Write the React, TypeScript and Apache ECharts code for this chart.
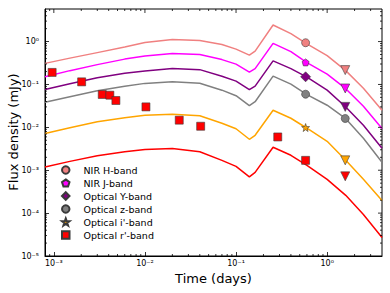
import React, { useEffect, useRef } from 'react';
import * as echarts from 'echarts';

const FONT = 'DejaVu Sans';

// model time grid (days)
const modelTimes = [0.0008, 0.0015, 0.003, 0.006, 0.01, 0.02, 0.04, 0.07, 0.1, 0.14, 0.162, 0.255, 0.4, 0.6, 1.0, 1.6, 2.5, 4.0];

// model curves (mJy)
const modelH = [0.31, 0.411, 0.553, 0.744, 0.948, 1.113, 1.055, 0.851, 0.668, 0.484, 0.6, 2.43, 1.538, 0.888, 0.471, 0.21, 0.082, 0.0251];
const modelJ = [0.151, 0.21, 0.29, 0.39, 0.463, 0.53, 0.497, 0.38, 0.298, 0.194, 0.234, 0.908, 0.584, 0.323, 0.174, 0.0798, 0.0311, 0.00938];
const modelY = [0.0764, 0.1044, 0.144, 0.1837, 0.2067, 0.2364, 0.2218, 0.156, 0.1194, 0.0756, 0.0912, 0.356, 0.234, 0.148, 0.0736, 0.0298, 0.0112, 0.00325];
const modelZ = [0.0386, 0.0519, 0.0716, 0.0912, 0.106, 0.115, 0.107, 0.0736, 0.0547, 0.032, 0.0396, 0.156, 0.1016, 0.0578, 0.0328, 0.0159, 0.00556, 0.00153];
const modelI = [0.00716, 0.0098, 0.0135, 0.01676, 0.0192, 0.0202, 0.0187, 0.01247, 0.00927, 0.00527, 0.00653, 0.0251, 0.0163, 0.00953, 0.00473, 0.0017, 0.000613, 0.000198];
const modelR = [0.00119, 0.00161, 0.00217, 0.00269, 0.00303, 0.0032, 0.00269, 0.0017, 0.00123, 0.000701, 0.000893, 0.00343, 0.00223, 0.0013, 0.000613, 0.00026, 0.0000933, 0.000027];

// observations (detections)
const obsHTimes = [0.58];
const obsHFlux = [0.94];
const obsJTimes = [0.58];
const obsJFlux = [0.327];
const obsYTimes = [0.58];
const obsYFlux = [0.151];
const obsZTimes = [0.58, 1.58];
const obsZFlux = [0.0593, 0.0161];
const obsITimes = [0.58];
const obsIFlux = [0.00989];
const obsRTimes = [0.000958, 0.00202, 0.0034, 0.00412, 0.0048, 0.01026, 0.0238, 0.0409, 0.287, 0.58];
const obsRFlux = [0.191, 0.115, 0.0584, 0.0562, 0.0423, 0.03, 0.0147, 0.0106, 0.00597, 0.0017];

// upper limits
const limTimes = [1.58];
const limH = [0.216];
const limJ = [0.0806];
const limY = [0.03];
const limI = [0.0017];
const limR = [0.00072];

const bandNames = ['NIR H-band', 'NIR J-band', 'Optical Y-band', 'Optical z-band', "Optical i'-band", "Optical r'-band"];
const bandColors = ['#F08080', '#FF00FF', '#800080', '#808080', '#FFA500', '#FF0000'];

const xTitle = 'Time (days)';
const yTitle = 'Flux density (mJy)';

const xMin = 0.0008;
const xMax = 4.0;
const yMin = 1e-5;
const yMax = 5.75;

const STAR = 'path://M0,-10 L2.35,-3.24 L9.51,-3.09 L3.8,1.24 L5.88,8.09 L0,4 L-5.88,8.09 L-3.8,1.24 L-9.51,-3.09 L-2.35,-3.24 Z';
const PENTA = 'path://M0,-10 L9.51,-3.09 L5.88,8.09 L-5.88,8.09 L-9.51,-3.09 Z';

const SUP: Record<string, string> = { '-': '\u207B', '0': '\u2070', '1': '\u00B9', '2': '\u00B2', '3': '\u00B3', '4': '\u2074', '5': '\u2075', '6': '\u2076' };
const powLabel = (v: number) => {
  const e = Math.round(Math.log10(v));
  return '10' + String(e).split('').map((c) => SUP[c] || c).join('');
};

const zip = (t: number[], f: number[]) => t.map((x, i) => [x, f[i]]);

function minorTicks(lo: number, hi: number) {
  const out: number[] = [];
  for (let e = -6; e <= 1; e++) {
    for (let k = 2; k <= 9; k++) {
      const v = k * Math.pow(10, e);
      if (v > lo && v < hi) out.push(v);
    }
  }
  return out;
}
function majorTicks(lo: number, hi: number) {
  const out: number[] = [];
  for (let e = -6; e <= 1; e++) {
    const v = Math.pow(10, e);
    if (v > lo && v < hi) out.push(v);
  }
  return out;
}

export default function App() {
  const ref = useRef<HTMLDivElement>(null);
  useEffect(() => {
    const chart = echarts.init(ref.current!, null, { renderer: 'svg' });
    const tickStyle = { stroke: '#000', lineWidth: 0.8 };
    const models = [modelH, modelJ, modelY, modelZ, modelI, modelR];
    const lineSeries = models.map((m, i) => ({
      name: 'model-' + i,
      type: 'line',
      data: zip(modelTimes, m),
      showSymbol: false,
      symbol: 'none',
      lineStyle: { color: bandColors[i], width: 1.5 },
      itemStyle: { color: bandColors[i] },
      z: 2,
      silent: true,
    }));
    const obs = [
      { t: obsHTimes, f: obsHFlux, symbol: 'circle', size: 8 },
      { t: obsJTimes, f: obsJFlux, symbol: PENTA, size: 7 },
      { t: obsYTimes, f: obsYFlux, symbol: 'diamond', size: 10 },
      { t: obsZTimes, f: obsZFlux, symbol: 'circle', size: 8 },
      { t: obsITimes, f: obsIFlux, symbol: STAR, size: 8 },
      { t: obsRTimes, f: obsRFlux, symbol: 'rect', size: 8 },
    ];
    const scatterSeries = obs.map((o, i) => ({
      name: bandNames[i],
      type: 'scatter',
      data: zip(o.t, o.f),
      symbol: o.symbol,
      symbolSize: o.size,
      itemStyle: { color: bandColors[i], borderColor: '#3a3a3a', borderWidth: 0.6, opacity: 1 },
      z: 5,
    }));
    const lims = [limH, limJ, limY, null, limI, limR];
    const limSeries = lims
      .map((l, i) =>
        l
          ? {
              name: 'limit-' + i,
              type: 'scatter',
              data: zip(limTimes, l),
              symbol: 'triangle',
              symbolRotate: 180,
              symbolSize: 9,
              itemStyle: { color: bandColors[i], borderColor: '#3a3a3a', borderWidth: 0.6, opacity: 1 },
              z: 5,
            }
          : null
      )
      .filter(Boolean);

    const xMinor = minorTicks(xMin, xMax);
    const yMinor = minorTicks(yMin, yMax);
    const xMajor = majorTicks(xMin, xMax);
    const yMajor = majorTicks(yMin, yMax);

    const xTickSeries = {
      name: 'xticks',
      type: 'custom',
      silent: true,
      z: 10,
      data: [...xMinor.map((v) => [v, 1, 2]), ...xMajor.map((v) => [v, 1, 4])],
      renderItem: (params: any, api: any) => {
        const p = api.coord([api.value(0), 1]);
        const len = api.value(2);
        const cs = params.coordSys;
        const b = cs.y + cs.height;
        const children: any[] = [
          { type: 'line', shape: { x1: p[0], y1: cs.y, x2: p[0], y2: cs.y + len }, style: tickStyle },
        ];
        if (len < 3) children.push({ type: 'line', shape: { x1: p[0], y1: b, x2: p[0], y2: b - len }, style: tickStyle });
        return { type: 'group', children };
      },
    };
    const yTickSeries = {
      name: 'yticks',
      type: 'custom',
      silent: true,
      z: 10,
      data: [...yMinor.map((v) => [0.01, v, 2]), ...yMajor.map((v) => [0.01, v, 4])],
      renderItem: (params: any, api: any) => {
        const p = api.coord([0.01, api.value(1)]);
        const len = api.value(2);
        const cs = params.coordSys;
        const r = cs.x + cs.width;
        const children: any[] = [
          { type: 'line', shape: { x1: r, y1: p[1], x2: r - len, y2: p[1] }, style: tickStyle },
        ];
        if (len < 3) children.push({ type: 'line', shape: { x1: cs.x, y1: p[1], x2: cs.x + len, y2: p[1] }, style: tickStyle });
        return { type: 'group', children };
      },
    };

    chart.setOption({
      animation: false,
      textStyle: { fontFamily: FONT },
      grid: { left: 45, right: 8, top: 9, bottom: 37, outerBoundsMode: 'none', containLabel: false, show: true, borderColor: '#000', borderWidth: 1, backgroundColor: 'transparent' },
      legend: {
        orient: 'vertical',
        left: 56,
        top: 160,
        padding: 5,
        itemWidth: 7.5,
        itemHeight: 7.5,
        itemGap: 3,
        selectedMode: false,
        textStyle: { fontSize: 9.5, fontFamily: FONT, color: '#000', padding: [0, 0, 0, 9] },
        data: bandNames,
      },
      graphic: [
        {
          type: 'text',
          x: 13,
          y: 132,
          rotation: Math.PI / 2,
          silent: true,
          style: { text: yTitle, fontSize: 13, fontFamily: FONT, fill: '#000', align: 'center', verticalAlign: 'middle' },
        },
      ],
      xAxis: {
        type: 'log',
        logBase: 10,
        min: xMin,
        max: xMax,
        name: xTitle,
        nameLocation: 'middle',
        nameGap: 13,
        nameTextStyle: { fontSize: 13, fontFamily: FONT, color: '#000' },
        axisLine: { show: true, lineStyle: { color: '#000', width: 1 } },
        axisTick: { show: true, inside: true, length: 4, lineStyle: { color: '#000', width: 0.8 } },
        axisLabel: { formatter: powLabel, fontSize: 8, color: '#000', margin: 3, showMinLabel: false, showMaxLabel: false, fontFamily: FONT },
        splitLine: { show: false },
      },
      yAxis: {
        type: 'log',
        logBase: 10,
        min: yMin,
        max: yMax,
        axisLine: { show: true, lineStyle: { color: '#000', width: 1 } },
        axisTick: { show: true, inside: true, length: 4, lineStyle: { color: '#000', width: 0.8 } },
        axisLabel: { formatter: powLabel, fontSize: 8, color: '#000', margin: 6, showMinLabel: true, showMaxLabel: false, fontFamily: FONT },
        splitLine: { show: false },
      },
      series: [...lineSeries, ...scatterSeries, ...limSeries, xTickSeries, yTickSeries],
    });
    return () => chart.dispose();
  }, []);
  return <div ref={ref} style={{ position: 'absolute', left: 0, top: 0, width: 390, height: 293 }} />;
}
